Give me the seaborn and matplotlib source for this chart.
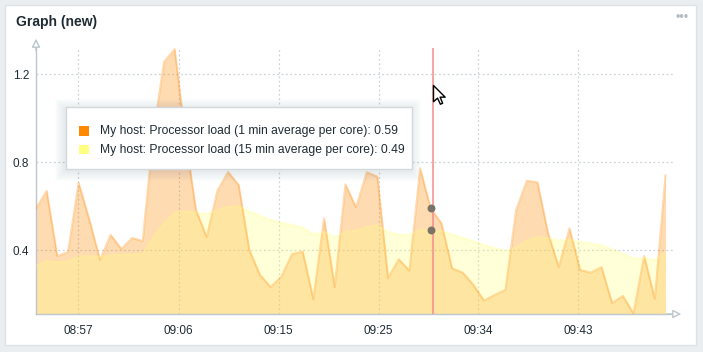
import seaborn as sns
import matplotlib.pyplot as plt
from matplotlib.path import Path
from matplotlib.patches import Rectangle

# one sample per minute, 08:53 -> 09:52
minutes = list(range(60))
load_1min = [0.59, 0.67, 0.374, 0.392, 0.707, 0.54, 0.356, 0.47, 0.406, 0.456,
             0.442, 0.93, 1.257, 1.315, 0.915, 0.583, 0.459, 0.671, 0.756, 0.697,
             0.40, 0.288, 0.232, 0.28, 0.382, 0.394, 0.177, 0.545, 0.232, 0.70,
             0.595, 0.755, 0.735, 0.273, 0.359, 0.307, 0.773, 0.59, 0.523, 0.318,
             0.298, 0.242, 0.171, 0.197, 0.22, 0.583, 0.716, 0.709, 0.477, 0.323,
             0.50, 0.31, 0.298, 0.323, 0.159, 0.192, 0.113, 0.374, 0.179, 0.742]
load_15min = [0.329, 0.353, 0.345, 0.351, 0.371, 0.374, 0.371, 0.377, 0.38, 0.381,
              0.383, 0.462, 0.523, 0.571, 0.578, 0.572, 0.565, 0.583, 0.598, 0.60,
              0.577, 0.557, 0.538, 0.525, 0.515, 0.503, 0.472, 0.484, 0.459, 0.485,
              0.489, 0.506, 0.514, 0.483, 0.472, 0.47, 0.495, 0.49, 0.487, 0.472,
              0.456, 0.441, 0.424, 0.409, 0.398, 0.412, 0.446, 0.46, 0.455, 0.444,
              0.45, 0.438, 0.43, 0.423, 0.404, 0.384, 0.362, 0.365, 0.355, 0.392]
series_names = ['My host: Processor load (1 min average per core)',
                'My host: Processor load (15 min average per core)']
series_colors = ['#ff8800', '#ffff80']
x_tick_pos = [3.98, 13.36, 22.73, 32.1, 41.47, 50.84]
x_tick_labels = ['08:57', '09:06', '09:15', '09:25', '09:34', '09:43']
y_ticks = [0.4, 0.8, 1.2]
hover_minute = 37.2
hover_index = 37

W, H = 703, 352
txt = '#1f2c33'
grid_c = '#ccd4d9'
axis_c = '#bcc6cc'


def fx(px):
    return px / W


def fy(py):
    return 1 - py / H


sns.set_style('white')
plt.rcParams['font.family'] = ['Liberation Sans', 'DejaVu Sans']

fig = plt.figure(figsize=(W / 100, H / 100), dpi=100, facecolor='#ebeef0')
fig.patches.append(Rectangle((fx(5), fy(345)), fx(691), 340 / H, transform=fig.transFigure,
                             facecolor='white', edgecolor='#dde2e6', lw=1, zorder=-10))
fig.text(fx(16), fy(22), 'Graph (new)', fontsize=10, fontweight='bold', color=txt,
         va='center', ha='left')
fig.text(fx(682), fy(18), '•••', fontsize=9, color='#b4bcc2', va='center', ha='center')

ax = fig.add_axes([fx(36), fy(314), fx(637), 266 / H])
ax.set_facecolor('none')

# area series, drawn in item order
for vals, col in [(load_1min, series_colors[0]), (load_15min, series_colors[1])]:
    ax.fill_between(minutes, vals, 0, color=col, alpha=0.3, lw=0, zorder=2)
    sns.lineplot(x=minutes, y=vals, ax=ax, color=col, alpha=0.3, lw=1.5, zorder=3)

ax.set_xlim(0, 59.7)
ax.set_ylim(0.11, 1.32)
ax.set_xticks(x_tick_pos)
ax.set_xticklabels(x_tick_labels)
ax.set_yticks(y_ticks)
ax.set_yticklabels([f'{v:.1f}' for v in y_ticks])
ax.tick_params(length=0, labelsize=8.5, colors=txt, pad=5)
ax.tick_params(axis='x', pad=8)
ax.grid(True, ls=(0, (1.5, 2)), color=grid_c, lw=0.9)
ax.set_axisbelow(True)
for s in ['top', 'right']:
    ax.spines[s].set_visible(False)
for s in ['left', 'bottom']:
    ax.spines[s].set_color(axis_c)
    ax.spines[s].set_linewidth(1)
ax.annotate('', xy=(0, 1.035), xytext=(0, 0.99), xycoords='axes fraction',
            arrowprops=dict(arrowstyle='-|>,head_length=0.5,head_width=0.25', color=axis_c,
                            fc='white', lw=1, shrinkA=0, shrinkB=0), annotation_clip=False)
ax.annotate('', xy=(1.013, 0), xytext=(0.99, 0), xycoords='axes fraction',
            arrowprops=dict(arrowstyle='-|>,head_length=0.5,head_width=0.25', color=axis_c,
                            fc='white', lw=1, shrinkA=0, shrinkB=0), annotation_clip=False)

# hover line, points and cursor
ax.axvline(hover_minute, color='#f08a8a', alpha=0.75, lw=1.5, zorder=5)
ax.scatter([hover_index, hover_index], [load_1min[hover_index], load_15min[hover_index]],
           s=22, color='#7a7468', zorder=6)
cursor = Path([(0, 0), (0, -16), (4, -12.5), (6.8, -18.5), (9, -17.5), (6.5, -11.5),
               (11.5, -11.5), (0, 0)],
              [Path.MOVETO] + [Path.LINETO] * 6 + [Path.CLOSEPOLY])
ax.plot([hover_minute], [1.151], marker=cursor, ms=27, mfc='white', mec='black',
        mew=1, zorder=7, clip_on=False)

# tooltip
bx0, by0, bx1, by1 = 66, 107, 412, 169
for k in range(10, 0, -1):
    fig.patches.append(Rectangle((fx(bx0 - k - 1), fy(by1 + k + 2)), (bx1 - bx0 + 2 * k) / W,
                                 (by1 - by0 + 2 * k) / H, transform=fig.transFigure,
                                 facecolor='#4a5560', alpha=0.012, lw=0, zorder=8))
fig.patches.append(Rectangle((fx(bx0), fy(by1)), (bx1 - bx0) / W, (by1 - by0) / H,
                             transform=fig.transFigure, facecolor='white',
                             edgecolor='#d3d8dc', lw=1, zorder=9))
vals_now = [load_1min[hover_index], load_15min[hover_index]]
for row, (name, col, v) in enumerate(zip(series_names, series_colors, vals_now)):
    yc = 131 + row * 18.5
    fig.patches.append(Rectangle((fx(79), fy(yc + 4.5)), 10 / W, 9.5 / H,
                                 transform=fig.transFigure, facecolor=col, lw=0, zorder=10))
    fig.text(fx(99.5), fy(yc), f'{name}: {v:.2f}', fontsize=8.7, color=txt,
             va='center', ha='left', zorder=10)

fig.savefig('out.png', dpi=100, facecolor=fig.get_facecolor())
